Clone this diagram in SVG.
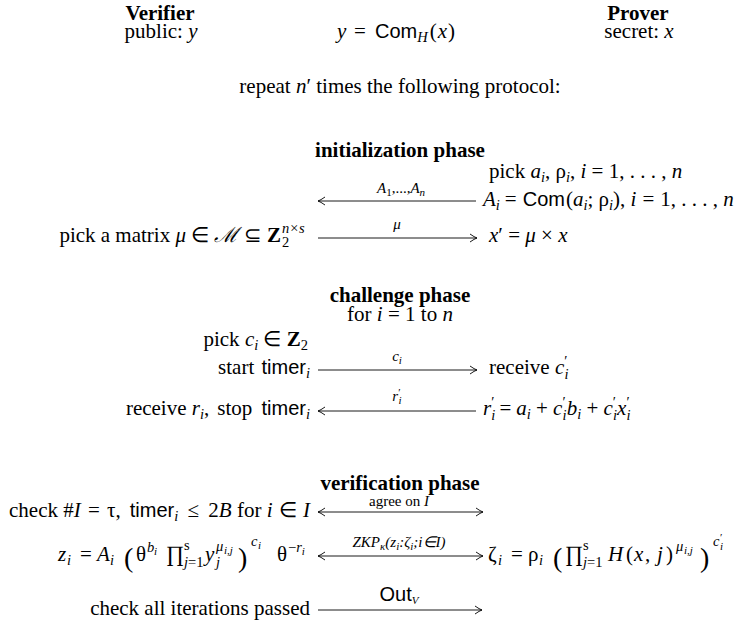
<svg xmlns="http://www.w3.org/2000/svg" width="744" height="638" viewBox="0 0 744 638">
<style>
text{font-family:"Liberation Serif","Times New Roman",serif;font-size:21px;fill:#000}
.b{font-weight:bold}
.i{font-style:italic}
.s{font-family:"Liberation Sans",Arial,sans-serif;font-size:20px}
.sub{font-size:14.5px}
.ss{font-size:11px}
.lb{font-size:15px}
.big{font-size:28px}
.op{font-size:22px}
.ar{stroke:#000;stroke-width:0.9;fill:none}
</style>
<defs>
<marker id="h" markerWidth="12" markerHeight="12" refX="0" refY="0" viewBox="-8 -6 9 12" orient="auto-start-reverse" markerUnits="userSpaceOnUse">
<path d="M-7,-4 Q-2.5,-0.8 0,0 Q-2.5,0.8 -7,4" stroke="#000" stroke-width="0.9" fill="none"/>
</marker>
</defs>

<g id="header">
<text x="160" y="20" text-anchor="middle" class="b">Verifier</text>
<text x="161" y="38" text-anchor="middle">public: <tspan class="i">y</tspan></text>
<text x="638" y="20" text-anchor="middle" class="b">Prover</text>
<text x="639" y="38" text-anchor="middle">secret: <tspan class="i">x</tspan></text>
<text x="337" y="38"><tspan class="i">y</tspan><tspan x="354">=</tspan><tspan class="s" x="375">Com</tspan><tspan class="i sub" dy="4">H</tspan><tspan dy="-4" dx="2">(</tspan><tspan class="i" dx="1">x</tspan><tspan dx="1">)</tspan></text>
<text x="400" y="93" text-anchor="middle">repeat <tspan class="i">n</tspan>′ times the following protocol:</text>
</g>

<g id="init">
<text x="400" y="157" text-anchor="middle" class="b">initialization phase</text>
<text x="489" y="178">pick <tspan class="i">a</tspan><tspan class="i sub" dy="4">i</tspan><tspan dy="-4">, ρ</tspan><tspan class="i sub" dy="4">i</tspan><tspan dy="-4">, </tspan><tspan class="i">i</tspan> = 1, . . . , <tspan class="i">n</tspan></text>
<text x="483" y="206"><tspan class="i">A</tspan><tspan class="i sub" dy="4">i</tspan><tspan dy="-4" dx="5">=</tspan><tspan class="s" dx="6">Com</tspan><tspan dx="1">(</tspan><tspan class="i">a</tspan><tspan class="i sub" dy="4">i</tspan><tspan dy="-4">; ρ</tspan><tspan class="i sub" dy="4">i</tspan><tspan dy="-4">), </tspan><tspan class="i">i</tspan><tspan dx="6">=</tspan><tspan dx="6">1, . . . , </tspan><tspan class="i">n</tspan></text>
<text x="281" y="242" text-anchor="end">pick a matrix <tspan class="i">μ</tspan> ∈ <tspan class="i">ℳ</tspan> ⊆ <tspan class="b">Z</tspan></text>
<text x="282" y="233" class="i sub">n×s</text>
<text x="282" y="247" class="sub">2</text>
<text x="489" y="242"><tspan class="i">x</tspan>′ = <tspan class="i">μ</tspan> × <tspan class="i">x</tspan></text>
</g>

<g id="challenge">
<text x="400" y="302" text-anchor="middle" class="b">challenge phase</text>
<text x="400" y="321" text-anchor="middle">for <tspan class="i">i</tspan> = 1 to <tspan class="i">n</tspan></text>
<text x="308" y="346" text-anchor="end">pick <tspan class="i">c</tspan><tspan class="i sub" dy="4">i</tspan><tspan dy="-4"> ∈ </tspan><tspan class="b">Z</tspan><tspan class="sub" dy="4">2</tspan></text>
<text x="310" y="374" text-anchor="end">start <tspan class="s" dx="2">timer</tspan><tspan class="i sub" dy="4">i</tspan></text>
<text x="489" y="374">receive <tspan class="i">c</tspan><tspan class="sub" dy="-8">′</tspan><tspan class="i sub" dx="-3" dy="13">i</tspan></text>
<text x="310" y="415" text-anchor="end">receive <tspan class="i">r</tspan><tspan class="i sub" dy="4">i</tspan><tspan dy="-4">,</tspan><tspan dx="8">stop </tspan><tspan class="s" dx="4">timer</tspan><tspan class="i sub" dy="4">i</tspan></text>
<text x="483" y="415"><tspan class="i">r</tspan><tspan class="sub" dy="-8">′</tspan><tspan class="i sub" dx="-3" dy="13">i</tspan><tspan dy="-5" dx="4">=</tspan><tspan class="i" dx="5">a</tspan><tspan class="i sub" dy="4">i</tspan><tspan dy="-4"> + </tspan><tspan class="i">c</tspan><tspan class="sub" dy="-8">′</tspan><tspan class="i sub" dx="-3" dy="13">i</tspan><tspan class="i" dy="-5">b</tspan><tspan class="i sub" dy="4">i</tspan><tspan dy="-4"> + </tspan><tspan class="i">c</tspan><tspan class="sub" dy="-8">′</tspan><tspan class="i sub" dx="-3" dy="13">i</tspan><tspan class="i" dy="-5">x</tspan><tspan class="sub" dy="-8">′</tspan><tspan class="i sub" dx="-3" dy="13">i</tspan></text>
</g>

<g id="verification">
<text x="400" y="490" text-anchor="middle" class="b">verification phase</text>
<text x="310" y="517" text-anchor="end">check #<tspan class="i">I</tspan><tspan dx="2"> = </tspan><tspan dx="2">τ,</tspan><tspan class="s" dx="9">timer</tspan><tspan class="i sub" dy="4">i</tspan><tspan dy="-4" dx="4"> ≤ </tspan><tspan dx="4">2</tspan><tspan class="i">B</tspan> for <tspan class="i">i</tspan><tspan dx="1"> ∈ </tspan><tspan class="i" dx="1">I</tspan></text>
<text x="58" y="561"><tspan class="i">z</tspan><tspan class="i sub" x="67" y="565">i</tspan><tspan x="80" y="561">=</tspan><tspan class="i" x="97">A</tspan><tspan class="i sub" x="110" y="565">i</tspan><tspan class="big" x="124" y="567">(</tspan><tspan x="136" y="561">θ</tspan><tspan class="i sub" x="147" y="552">b</tspan><tspan class="i ss" x="154" y="555">i</tspan><tspan class="op" x="166" y="561">∏</tspan><tspan class="sub" x="184" y="550">s</tspan><tspan class="i sub" x="184" y="567">j</tspan><tspan class="sub">=1</tspan><tspan class="i" x="205" y="561">y</tspan><tspan class="i sub" x="216" y="551">μ</tspan><tspan class="i ss" x="224" y="554">i,j</tspan><tspan class="i sub" x="216" y="567">j</tspan><tspan class="big" x="238" y="567">)</tspan><tspan class="i sub" x="251" y="546">c</tspan><tspan class="i ss" x="258" y="549">i</tspan><tspan x="277" y="561">θ</tspan><tspan class="sub" x="288" y="552">−</tspan><tspan class="i sub">r</tspan><tspan class="i ss" y="555">i</tspan></text>
<text x="488" y="561">ζ<tspan class="i sub" x="498" y="565">i</tspan><tspan x="511" y="561">=</tspan><tspan x="528">ρ</tspan><tspan class="i sub" x="539" y="565">i</tspan><tspan class="big" x="553" y="567">(</tspan><tspan class="op" x="565" y="561">∏</tspan><tspan class="sub" x="583" y="550">s</tspan><tspan class="i sub" x="583" y="567">j</tspan><tspan class="sub">=1</tspan><tspan class="i" x="608" y="561">H</tspan><tspan x="626">(</tspan><tspan class="i" x="634">x</tspan><tspan x="645">,</tspan><tspan class="i" x="657">j</tspan><tspan x="666">)</tspan><tspan class="i sub" x="676" y="551">μ</tspan><tspan class="i ss" x="684" y="554">i,j</tspan><tspan class="big" x="700" y="567">)</tspan><tspan class="i sub" x="713" y="546">c</tspan><tspan class="ss" x="720" y="541">′</tspan><tspan class="i ss" x="720" y="550">i</tspan></text>
<text x="310" y="615" text-anchor="end">check all iterations passed</text>
</g>

<g id="connectors">
<line class="ar" x1="476" y1="201" x2="318" y2="201" marker-end="url(#h)"/>
<text x="401" y="193" text-anchor="middle" class="lb"><tspan class="i">A</tspan><tspan class="ss" dy="3">1</tspan><tspan dy="-3">,...,</tspan><tspan class="i">A</tspan><tspan class="i ss" dy="3">n</tspan></text>
<line class="ar" x1="318" y1="238" x2="477" y2="238" marker-end="url(#h)"/>
<text x="397" y="229" text-anchor="middle" class="lb i">μ</text>
<line class="ar" x1="318" y1="370" x2="477" y2="370" marker-end="url(#h)"/>
<text x="397" y="361" text-anchor="middle" class="lb"><tspan class="i">c</tspan><tspan class="i ss" dy="3">i</tspan></text>
<line class="ar" x1="476" y1="411" x2="318" y2="411" marker-end="url(#h)"/>
<text x="397" y="401" text-anchor="middle" class="lb"><tspan class="i">r</tspan><tspan class="ss" dy="-5">′</tspan><tspan class="i ss" dx="-2" dy="8">i</tspan></text>
<line class="ar" x1="318" y1="512" x2="483" y2="512" marker-start="url(#h)" marker-end="url(#h)"/>
<text x="399" y="506" text-anchor="middle" class="lb">agree on <tspan class="i">I</tspan></text>
<line class="ar" x1="318" y1="556" x2="483" y2="556" marker-start="url(#h)" marker-end="url(#h)"/>
<text x="399" y="547" text-anchor="middle" class="lb i">ZKP<tspan class="ss" dy="3">κ</tspan><tspan dy="-3">(z</tspan><tspan class="ss" dy="3">i</tspan><tspan dy="-3">:ζ</tspan><tspan class="ss" dy="3">i</tspan><tspan dy="-3">;i∈I)</tspan></text>
<line class="ar" x1="318" y1="610" x2="482" y2="610" marker-end="url(#h)"/>
<text x="399" y="601" text-anchor="middle" class="lb"><tspan class="s" font-size="14">Out</tspan><tspan class="i ss" dy="3">V</tspan></text>
</g>
</svg>
